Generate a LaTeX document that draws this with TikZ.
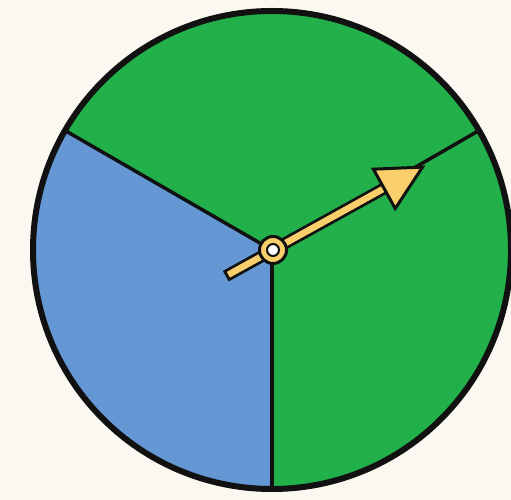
\documentclass[tikz,border=0pt]{standalone}
\usetikzlibrary{calc}
\definecolor{bg}{HTML}{FBF8F2}
\definecolor{spgreen}{HTML}{22B04B}
\definecolor{spblue}{HTML}{6497D3}
\definecolor{spyellow}{HTML}{F8CF6A}
\definecolor{ink}{HTML}{111111}
\tikzset{
  divider/.style={draw=ink, line width=0.07cm},
  rim/.style={draw=ink, line width=0.12cm},
  pointer/.style={line width=0.24cm, draw=ink, line cap=butt},
  pointerin/.style={line width=0.13cm, draw=spyellow, line cap=butt},
}
\begin{document}
\begin{tikzpicture}[x=0.02cm,y=0.02cm]
\fill[bg] (0,0) rectangle (511,500);
\useasboundingbox (0,0) rectangle (511,500);
\coordinate (c) at (272,250);
\fill[spgreen] (c) circle (239);
\fill[spblue] (c) -- ++(150:239) arc (150:270:239) -- cycle;
\coordinate (d1) at ($(c)+(30:239)$);
\coordinate (d2) at ($(c)+(150:239)$);
\coordinate (d3) at ($(c)+(270:239)$);
\draw[divider] (c) -- (d1);
\draw[divider] (c) -- (d2);
\draw[divider] (c) -- (d3);
\draw[rim] (c) circle (239);
\begin{scope}[shift={(273,250)}, rotate=29]
  \coordinate (tail) at (-54,0);
  \coordinate (neck) at (132,0);
  \coordinate (tailin) at (-51,0);
  \draw[pointer] (tail) -- (neck);
  \draw[pointerin] (tailin) -- (neck);
  \draw[ink, line width=0.06cm, fill=spyellow, line join=miter] (127,22) -- (171,0) -- (127,-23) -- cycle;
\end{scope}
\node[circle, draw=ink, line width=0.06cm, fill=spyellow, minimum size=0.54cm, inner sep=0pt] (hub) at (273,250) {};
\node[circle, draw=ink, line width=0.04cm, fill=white, minimum size=0.24cm, inner sep=0pt] (pin) at (hub) {};
\end{tikzpicture}
\end{document}
